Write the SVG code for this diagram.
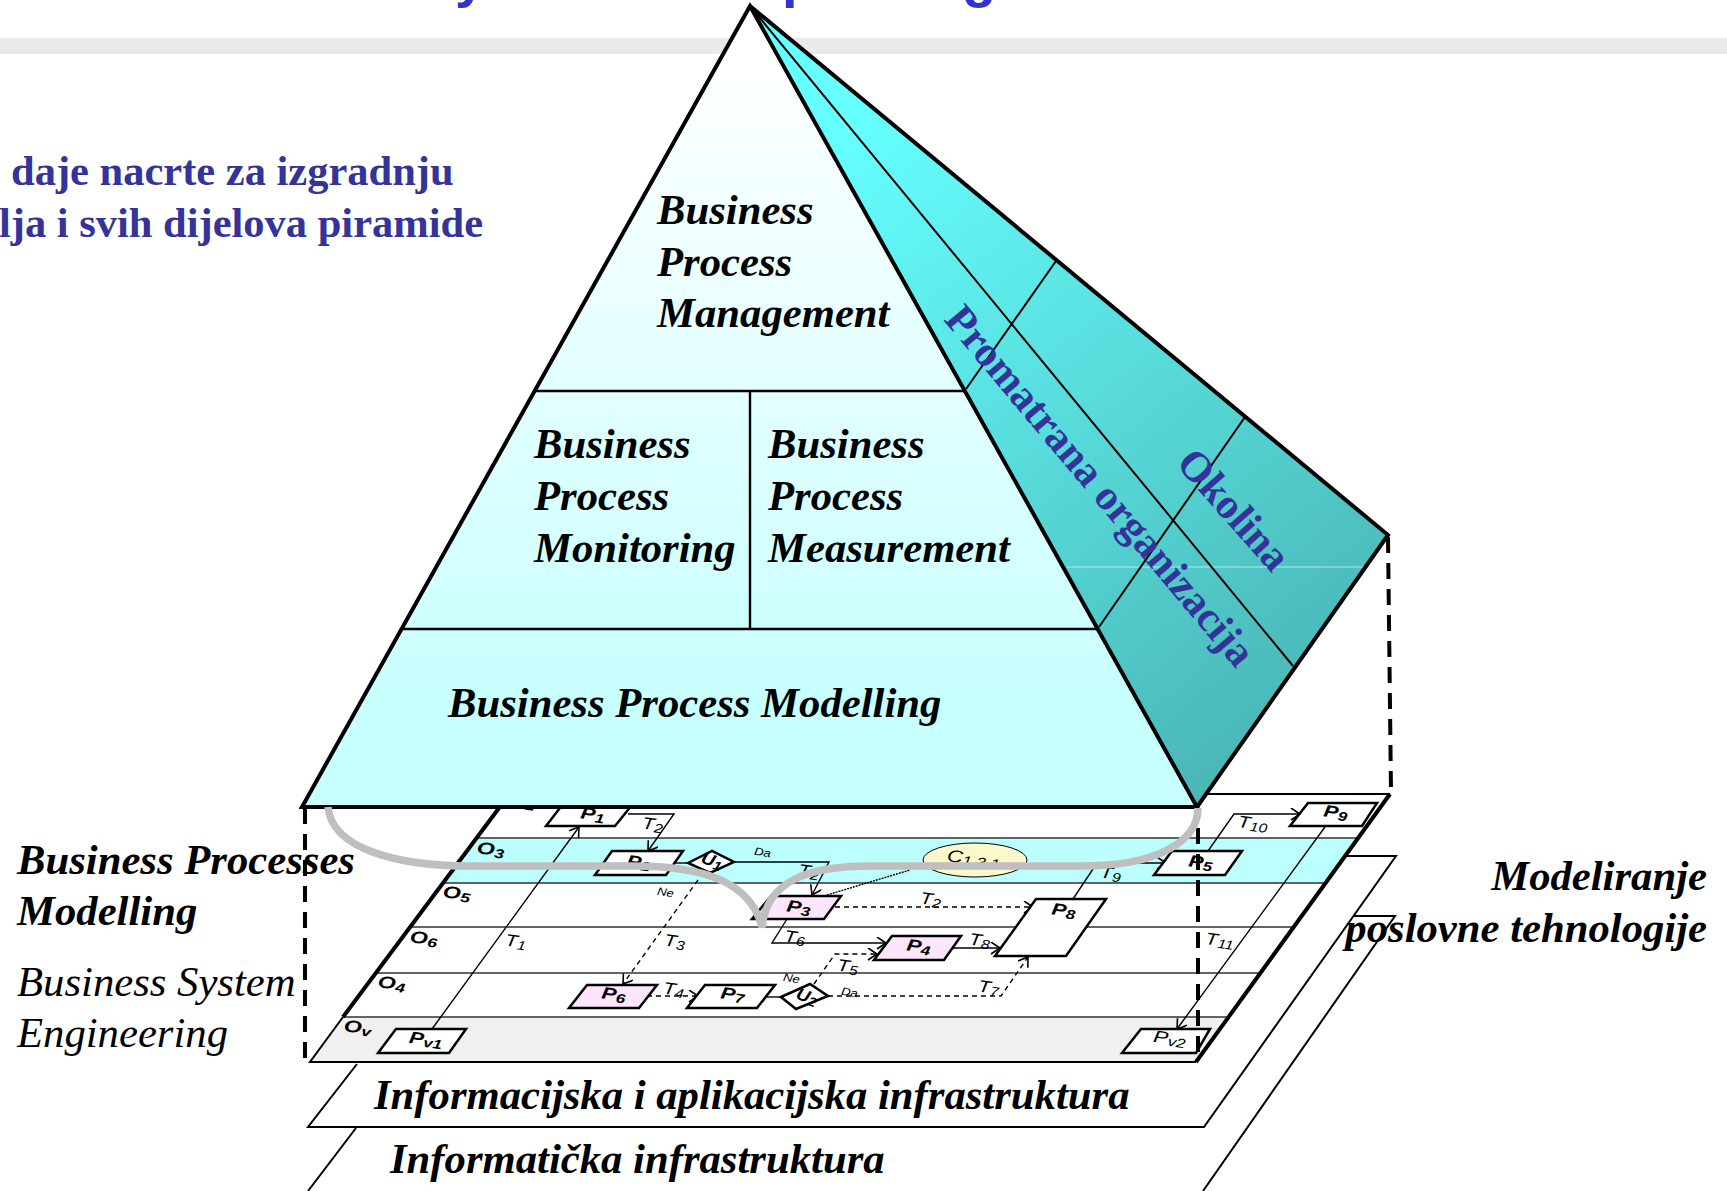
<svg xmlns="http://www.w3.org/2000/svg" width="1727" height="1191" viewBox="0 0 1727 1191">
<defs>
<linearGradient id="pyr" gradientUnits="userSpaceOnUse" x1="0" y1="60" x2="0" y2="700"><stop offset="0" stop-color="#ffffff"/><stop offset="1" stop-color="#c8ffff"/></linearGradient>
<linearGradient id="side" gradientUnits="userSpaceOnUse" x1="850" y1="120" x2="1330" y2="700"><stop offset="0" stop-color="#66ffff"/><stop offset="1" stop-color="#4ab6b6"/></linearGradient>
<marker id="arr" markerUnits="userSpaceOnUse" markerWidth="14" markerHeight="14" refX="10" refY="6" orient="auto"><path d="M1,0 L10,6 L1,12" fill="none" stroke="#000" stroke-width="1.6"/></marker>
</defs>
<style>
.sb{font-family:"Liberation Serif",serif;font-weight:bold;font-style:italic;font-size:42.7px;fill:#000}
.si{font-family:"Liberation Serif",serif;font-style:italic;font-size:42.7px;fill:#000}
.blue{font-family:"Liberation Serif",serif;font-weight:bold;font-size:42.5px;fill:#333399}
.title{font-family:"Liberation Sans",sans-serif;font-weight:bold;font-size:56px;fill:#3333cc}
.box{fill:#fff;stroke:#000;stroke-width:2.5}
.pink{fill:#fde6fd;stroke:#000;stroke-width:2.5}
.lb{font-family:"Liberation Sans",sans-serif;font-weight:bold;font-style:italic;font-size:17px;fill:#000;text-anchor:middle}
.lt{font-family:"Liberation Sans",sans-serif;font-style:italic;font-size:17px;fill:#000;text-anchor:middle}
.sm{font-size:13px}
.c{fill:none;stroke:#000;stroke-width:1.4}
.d{fill:none;stroke:#000;stroke-width:1.4;stroke-dasharray:5 4}
.dd{fill:none;stroke:#000;stroke-width:4;stroke-dasharray:16 10}
.row{fill:none;stroke:#333;stroke-width:1.6}
.pl{fill:#fff;stroke:#000;stroke-width:2}
.py{stroke:#000;stroke-width:4;stroke-linejoin:miter}
.dv{fill:none;stroke:#000;stroke-width:2.4}
.grey{fill:none;stroke:#bfbfbf;stroke-width:7.5}
</style>
<rect width="1727" height="1191" fill="#fff"/>
<rect x="0" y="38" width="1727" height="16" fill="#eaeaea"/>
<g id="title"><text class="title" x="455" y="-4">y</text><text class="title" x="782" y="-4">p</text><text class="title" x="962" y="-4">g</text></g>
<g id="intro"><text class="blue" x="11" y="185">daje nacrte za izgradnju</text><text class="blue" x="483" y="237" text-anchor="end">lja i svih dijelova piramide</text></g>

<g id="plane-infra2"><path class="pl" d="M308,1191 L356,1128 M1203,1191 L1395,916 L1350,916"/></g>
<g id="plane-infra1"><path class="pl" d="M357,1064 L308,1127 L1204,1127 L1396,856 L1347,856"/></g>
<g id="plane-process">
<path d="M310,1062 L343,1017 L1225,1017 L1196,1062 Z" fill="#f0f0f0"/>
<path d="M475,838 L443,883 L1326,883 L1358,838 Z" fill="#bbffff"/>
<path class="row" d="M475,838 H1358 M443,883 H1326 M410,927 H1292 M377,973 H1259 M343,1017 H1227"/>
<path fill="none" stroke="#000" stroke-width="2" d="M343,1017 L310,1062 L1196,1062"/>
<path fill="none" stroke="#000" stroke-width="4" d="M343,1017 L499,808"/>
<path fill="none" stroke="#000" stroke-width="2" d="M1206,794 H1390"/>
<path fill="none" stroke="#000" stroke-width="4" d="M1390,794 L1196,1062"/>
<text class="lb" transform="translate(490,855) rotate(8) scale(1.35,1)">O<tspan class="sm" dy="2">3</tspan></text>
<text class="lb" transform="translate(456,899) rotate(8) scale(1.35,1)">O<tspan class="sm" dy="2">5</tspan></text>
<text class="lb" transform="translate(423,944) rotate(8) scale(1.35,1)">O<tspan class="sm" dy="2">6</tspan></text>
<text class="lb" transform="translate(391,989) rotate(8) scale(1.35,1)">O<tspan class="sm" dy="2">4</tspan></text>
<text class="lb" transform="translate(357,1033) rotate(8) scale(1.35,1)">O<tspan class="sm" dy="2">v</tspan></text>
<text class="lb" transform="translate(521,807) rotate(8) scale(1.35,1)">O<tspan class="sm" dy="2">2</tspan></text>
</g>

<g id="connectors">
<path class="c" marker-end="url(#arr)" d="M432,1029 L579,827"/>
<path class="c" marker-end="url(#arr)" d="M628,814 H674 L648,851"/>
<path class="c" d="M672,863 H688"/>
<path class="c" marker-end="url(#arr)" d="M734,862 H829 L812,895"/>
<path class="d" marker-end="url(#arr)" d="M698,880 L623,984"/>
<path class="d" marker-end="url(#arr)" d="M647,996 H698"/>
<path class="c" d="M756,997 H781"/>
<path class="d" marker-end="url(#arr)" d="M835,907 H1033"/>
<path class="c" marker-end="url(#arr)" d="M787,919 L772,943 H886"/>
<path class="c" marker-end="url(#arr)" d="M953,948 H1000"/>
<path class="d" marker-end="url(#arr)" d="M814,984 L835,954 H877"/>
<path class="d" marker-end="url(#arr)" d="M828,996 H1001 L1028,957"/>
<path class="c" stroke-dasharray="2 1" d="M827,895 L910,870"/>
<path class="c" d="M1073,899 L1095,866"/>
<path class="c" marker-end="url(#arr)" d="M1105,863 H1166"/>
<path class="c" marker-end="url(#arr)" d="M1208,851 L1234,814 H1300"/>
<path class="c" marker-end="url(#arr)" d="M1325,827 L1177,1029"/>
</g>

<g id="node-P1"><path class="box" d="M546,826 H615 L640,795 H570 Z"/><text class="lb" transform="translate(592,820) rotate(8) scale(1.3,1)">P<tspan class="sm" dy="2">1</tspan></text></g>
<g id="node-P2"><path class="box" d="M595,875 H666 L683,851 H612 Z"/><text class="lb" transform="translate(638,868) rotate(8) scale(1.3,1)">P<tspan class="sm" dy="2">2</tspan></text></g>
<g id="node-U1"><path class="box" d="M688,863 L712,851 L734,862 L710,873 Z"/><text class="lb" transform="translate(710,866) rotate(20) scale(1.1,1)">U<tspan class="sm" dy="2">1</tspan></text></g>
<g id="node-C131"><ellipse cx="975" cy="860" rx="52" ry="17" fill="#fdf8cc" stroke="#000" stroke-width="1"/><text class="lt" transform="translate(973,864) rotate(6) scale(1.3,1)">C<tspan class="sm" dy="2">1,3,1</tspan></text></g>
<g id="node-P3"><path class="pink" d="M752,919 H824 L841,896 H771 Z"/><text class="lb" transform="translate(798,913) rotate(8) scale(1.3,1)">P<tspan class="sm" dy="2">3</tspan></text></g>
<g id="node-P8"><path class="box" d="M995,956 H1066 L1106,899 H1036 Z"/><text class="lb" transform="translate(1063,916) rotate(8) scale(1.3,1)">P<tspan class="sm" dy="2">8</tspan></text></g>
<g id="node-P4"><path class="pink" d="M874,960 H944 L961,936 H892 Z"/><text class="lb" transform="translate(918,952) rotate(8) scale(1.3,1)">P<tspan class="sm" dy="2">4</tspan></text></g>
<g id="node-U2"><path class="box" d="M781,997 L810,984 L828,996 L796,1009 Z"/><text class="lb" transform="translate(805,1002) rotate(20) scale(1.1,1)">U<tspan class="sm" dy="2">2</tspan></text></g>
<g id="node-P6"><path class="pink" d="M569,1008 H639 L657,985 H587 Z"/><text class="lb" transform="translate(613,1000) rotate(8) scale(1.3,1)">P<tspan class="sm" dy="2">6</tspan></text></g>
<g id="node-P7"><path class="box" d="M687,1008 H757 L775,985 H705 Z"/><text class="lb" transform="translate(732,1000) rotate(8) scale(1.3,1)">P<tspan class="sm" dy="2">7</tspan></text></g>
<g id="node-Pv1"><path class="box" d="M378,1053 H449 L466,1029 H396 Z"/><text class="lb" transform="translate(425,1045) rotate(8) scale(1.3,1)">P<tspan class="sm" dy="2">v1</tspan></text></g>
<g id="node-P5"><path class="box" d="M1154,875 H1225 L1242,851 H1172 Z"/><text class="lb" transform="translate(1200,868) rotate(8) scale(1.3,1)">P<tspan class="sm" dy="2">5</tspan></text></g>
<g id="node-P9"><path class="box" d="M1290,826 H1362 L1377,803 H1308 Z"/><text class="lb" transform="translate(1335,818) rotate(8) scale(1.3,1)">P<tspan class="sm" dy="2">9</tspan></text></g>
<g id="node-Pv2"><path class="box" d="M1122,1053 H1196 L1210,1029 H1141 Z"/><text class="lt" transform="translate(1169,1044) rotate(8) scale(1.3,1)">P<tspan class="sm" dy="2">v2</tspan></text></g>

<g id="edge-labels">
<text class="lt" transform="translate(652,830) rotate(8) scale(1.2,1)">T<tspan class="sm" dy="2">2</tspan></text>
<text class="lt" transform="translate(515,947) rotate(8) scale(1.2,1)">T<tspan class="sm" dy="2">1</tspan></text>
<text class="lt" transform="translate(674,947) rotate(8) scale(1.2,1)">T<tspan class="sm" dy="2">3</tspan></text>
<text class="lt" transform="translate(673,995) rotate(8) scale(1.2,1)">T<tspan class="sm" dy="2">4</tspan></text>
<text class="lt" transform="translate(808,877) rotate(8) scale(1.2,1)">T<tspan class="sm" dy="2">2</tspan></text>
<text class="lt" transform="translate(930,905) rotate(8) scale(1.2,1)">T<tspan class="sm" dy="2">2</tspan></text>
<text class="lt" transform="translate(794,943) rotate(8) scale(1.2,1)">T<tspan class="sm" dy="2">6</tspan></text>
<text class="lt" transform="translate(847,972) rotate(8) scale(1.2,1)">T<tspan class="sm" dy="2">5</tspan></text>
<text class="lt" transform="translate(979,946) rotate(8) scale(1.2,1)">T<tspan class="sm" dy="2">8</tspan></text>
<text class="lt" transform="translate(988,993) rotate(8) scale(1.2,1)">T<tspan class="sm" dy="2">7</tspan></text>
<text class="lt" transform="translate(1110,879) rotate(8) scale(1.2,1)">T<tspan class="sm" dy="2">9</tspan></text>
<text class="lt" transform="translate(1252,829) rotate(8) scale(1.2,1)">T<tspan class="sm" dy="2">10</tspan></text>
<text class="lt" transform="translate(1219,946) rotate(8) scale(1.2,1)">T<tspan class="sm" dy="2">11</tspan></text>
<text class="lt" style="font-size:11px" transform="translate(665,896) rotate(8) scale(1.2,1)">Ne</text>
<text class="lt" style="font-size:11px" transform="translate(791,982) rotate(8) scale(1.2,1)">Ne</text>
<text class="lt" style="font-size:11px" transform="translate(762,856) rotate(8) scale(1.2,1)">Da</text>
<text class="lt" style="font-size:11px" transform="translate(849,996) rotate(8) scale(1.2,1)">Da</text>
</g>

<g id="pyramid">
<path d="M750,6 L1388,535 L1197,807 Z" fill="url(#side)"/>
<path d="M1067,567 H1365" stroke="#c8f4f4" stroke-width="1" opacity="0.8"/>
<path class="py" d="M750,6 L1388,535 L1197,807" fill="none"/>
<path class="py" d="M750,6 L302,807 H1197 Z" fill="url(#pyr)"/>
<path class="dv" d="M535,391 H965 M402,629 H1098 M750,391 V629"/>
<path class="dv" style="stroke-width:2" d="M750,6 L1293,666 M1056,261 L966,389 M1245,417 L1099,627"/>
</g>

<g id="dashes"><path class="dd" d="M305,808 V1062"/><path class="dd" d="M1198,828 V1062"/><path class="dd" d="M1388,537 L1391,792"/></g>
<g id="grey-curves">
<path class="grey" d="M328,807 C332,850 400,866 470,866 H633 C700,866 750,880 762,927"/>
<path class="grey" d="M762,928 C766,880 810,866 870,866 H1082 C1160,866 1198,840 1198,808"/>
</g>

<g id="node-bpm"><text class="sb" x="657" y="224">Business</text><text class="sb" x="657" y="276">Process</text><text class="sb" x="657" y="327">Management</text></g>
<g id="node-monitoring"><text class="sb" x="534" y="458">Business</text><text class="sb" x="534" y="510">Process</text><text class="sb" x="534" y="562">Monitoring</text></g>
<g id="node-measurement"><text class="sb" x="768" y="458">Business</text><text class="sb" x="768" y="510">Process</text><text class="sb" x="768" y="562">Measurement</text></g>
<g id="node-modelling"><text class="sb" x="448" y="717">Business Process Modelling</text></g>
<g id="side-labels">
<text class="blue" transform="translate(943,320) rotate(50)">Promatrana organizacija</text>
<text class="blue" transform="translate(1175,464) rotate(48.5)">Okolina</text>
</g>
<g id="left-labels"><text class="sb" x="17" y="874">Business Processes</text><text class="sb" x="17" y="925">Modelling</text><text class="si" x="17" y="996">Business System</text><text class="si" x="17" y="1047">Engineering</text></g>
<g id="right-labels"><text class="sb" x="1707" y="890" text-anchor="end">Modeliranje</text><text class="sb" x="1707" y="942" text-anchor="end">poslovne tehnologije</text></g>
<g id="infra-labels"><text class="sb" x="374" y="1109">Informacijska i aplikacijska infrastruktura</text><text class="sb" x="390" y="1173">Informatička infrastruktura</text></g>
</svg>
